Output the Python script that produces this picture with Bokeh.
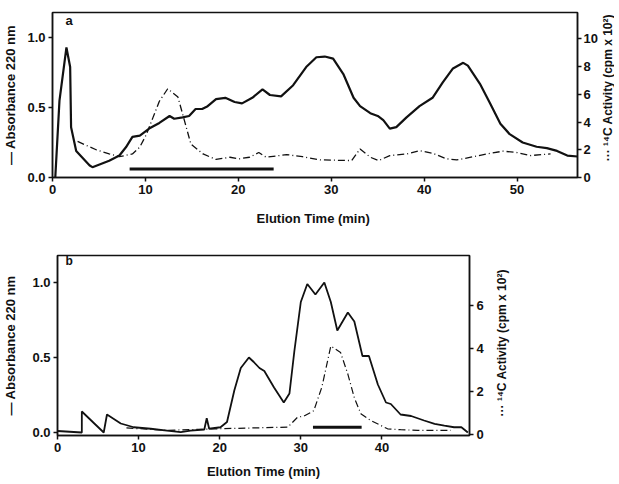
import math
from bokeh.plotting import figure
from bokeh.layouts import column, row
from bokeh.models import Range1d, LinearAxis, FixedTicker, Label, CustomJSTickFormatter
from bokeh.core.properties import value
from bokeh.embed import file_html
from bokeh.resources import INLINE

# ---------------- Panel a data ----------------
a_abs_t = [0.3, 0.75, 1.5, 1.9, 2.0, 2.55, 4.0, 4.3, 6.1, 7.2, 7.9, 8.6, 9.4, 10.4, 11.5, 12.6, 13.1,
           14.0, 14.7, 15.4, 16.1, 16.7, 17.6, 18.6, 19.6, 20.4, 21.5, 22.6, 23.4, 24.6, 25.9, 27.3,
           28.4, 29.3, 30.2, 31.3, 32.4, 33.1, 34.2, 35.0, 35.6, 36.3, 37.0, 38.1, 39.5, 40.9, 42.0,
           43.1, 44.2, 44.7, 46.0, 47.1, 48.2, 49.2, 50.6, 52.1, 53.2, 54.3, 55.4, 56.5]
a_abs = [0.0, 0.55, 0.93, 0.79, 0.36, 0.19, 0.086, 0.074, 0.12, 0.157, 0.216, 0.29, 0.30, 0.35, 0.39,
         0.44, 0.42, 0.43, 0.44, 0.49, 0.49, 0.51, 0.56, 0.57, 0.54, 0.53, 0.57, 0.63, 0.59, 0.58, 0.66,
         0.79, 0.86, 0.865, 0.85, 0.74, 0.57, 0.51, 0.46, 0.44, 0.41, 0.35, 0.36, 0.43, 0.51, 0.57, 0.68,
         0.78, 0.82, 0.80, 0.67, 0.53, 0.385, 0.31, 0.25, 0.22, 0.21, 0.19, 0.157, 0.15]

a_c14_t = [2.7, 4.7, 6.1, 7.2, 8.6, 9.4, 10.1, 10.8, 11.5, 12.4, 13.5, 14.2, 14.9, 16.2, 17.6, 19.1,
           20.1, 21.2, 22.2, 23.0, 25.2, 26.9, 28.8, 32.2, 33.1, 34.2, 35.1, 36.3, 38.1, 39.5, 40.9,
           42.4, 43.5, 45.3, 46.7, 48.5, 50.0, 51.4, 53.6]
a_c14 = [2.6, 2.0, 1.7, 1.5, 1.7, 2.2, 3.1, 4.3, 5.5, 6.4, 5.8, 4.1, 2.4, 1.7, 1.3, 1.46, 1.35, 1.46,
         1.8, 1.46, 1.65, 1.5, 1.27, 1.22, 2.06, 1.46, 1.22, 1.58, 1.7, 1.94, 1.75, 1.35, 1.27, 1.5,
         1.7, 1.9, 1.8, 1.58, 1.7]

a_bar_t = [8.3, 23.8]
a_bar_y = [0.06, 0.06]

# ---------------- Panel b data ----------------
b_abs_t = [0.0, 3.0, 3.0, 5.7, 6.1, 7.8, 9.4, 11.5, 13.5, 15.2, 16.4, 18.1, 18.4, 18.7, 20.1, 20.9,
           21.8, 22.6, 23.6, 24.2, 24.9, 25.5, 26.7, 27.9, 28.6, 29.2, 30.0, 30.8, 31.8, 32.9, 33.7,
           34.5, 35.8, 36.6, 37.6, 38.4, 39.5, 40.5, 41.1, 42.3, 43.6, 45.2, 46.5, 47.7, 48.9, 49.8, 50.6]
b_abs = [0.01, 0.0, 0.14, 0.0, 0.12, 0.06, 0.035, 0.025, 0.013, 0.002, 0.013, 0.02, 0.095, 0.025,
         0.035, 0.07, 0.28, 0.43, 0.50, 0.47, 0.43, 0.41, 0.30, 0.20, 0.26, 0.54, 0.87, 0.99, 0.92,
         1.0, 0.87, 0.68, 0.80, 0.74, 0.51, 0.51, 0.32, 0.20, 0.19, 0.12, 0.11, 0.08, 0.058, 0.046,
         0.035, 0.035, 0.0]

b_c14_t = [8.5, 13.5, 19.7, 28.4, 29.6, 30.4, 31.6, 32.6, 33.7, 34.9, 35.8, 36.6, 37.4, 38.6, 40.7,
           42.3, 44.4, 46.5, 48.5]
b_c14 = [0.3, 0.19, 0.26, 0.34, 0.8, 0.85, 1.1, 2.2, 4.1, 3.8, 2.8, 1.7, 0.96, 0.65, 0.26, 0.22,
         0.19, 0.19, 0.19]

b_bar_t = [31.5, 37.5]
b_bar_y = [0.035, 0.035]

left_label = "— Absorbance 220 nm"
right_label_a = "··· ¹⁴C Activity (cpm x 10²)"
right_label_b = "··· ¹⁴C Activity  (cpm x 10²)"
x_label_a = "Elution Time  (min)"
x_label_b = "Elution Time (min)"

FONT = "Liberation Sans"
INK = "#111111"


def style(p, xticks, lticks):
    p.outline_line_color = INK
    p.outline_line_width = 1.5
    p.xgrid.visible = False
    p.ygrid.visible = False
    for ax in p.axis:
        ax.axis_line_color = INK
        ax.axis_line_width = 1.5
        ax.major_tick_line_color = INK
        ax.major_tick_line_width = 1.5
        ax.major_tick_out = 4
        ax.major_tick_in = 0
        ax.minor_tick_line_color = None
        ax.major_label_text_font = FONT
        ax.major_label_text_font_size = "13px"
        ax.major_label_text_font_style = "bold"
        ax.major_label_text_color = INK
        ax.axis_label_text_font = FONT
        ax.axis_label_text_font_size = "13px"
        ax.axis_label_text_font_style = "bold"
        ax.axis_label_text_color = INK
        ax.major_label_standoff = 3
    p.xaxis.ticker = FixedTicker(ticks=xticks)
    p.yaxis[0].ticker = FixedTicker(ticks=lticks)
    p.yaxis[0].formatter = CustomJSTickFormatter(code="return tick.toFixed(1);")


def side_label(width, height, center_from_top, text):
    f = figure(width=width, height=height, x_range=Range1d(0, width), y_range=Range1d(0, height),
               x_axis_type=None, y_axis_type=None, toolbar_location=None, output_backend="svg",
               min_border=0)
    f.outline_line_color = None
    f.text(x=[width / 2], y=[height - center_from_top], text=[text], angle=math.pi / 2,
           text_align="center", text_baseline="middle", text_font=value(FONT),
           text_font_size="12px", text_font_style="bold", text_color=INK)
    return f


# ---------------- Panel a ----------------
pa = figure(frame_width=525, frame_height=165, output_backend="svg", toolbar_location=None,
            x_range=Range1d(0, 56.5), y_range=Range1d(0, 1.18),
            min_border_left=45, min_border_right=21, min_border_top=12, min_border_bottom=60)
pa.extra_y_ranges = {"c14": Range1d(0, 11.9)}
ra = LinearAxis(y_range_name="c14")
pa.add_layout(ra, "right")
pa.xaxis.axis_label = x_label_a
pa.yaxis[0].axis_label = left_label
style(pa, [0, 10, 20, 30, 40, 50], [0, 0.5, 1.0])
ra.ticker = FixedTicker(ticks=[0, 2, 4, 6, 8, 10])
ra.major_label_standoff = 2
pa.xaxis.axis_label_standoff = 14
pa.yaxis[0].axis_label_standoff = 6

pa.line(a_abs_t, a_abs, line_color=INK, line_width=2.2)
pa.line(a_c14_t, a_c14, line_color=INK, line_width=1.3, line_dash="7 3 1 3", y_range_name="c14")
pa.line(a_bar_t, a_bar_y, line_color=INK, line_width=3)
pa.add_layout(Label(x=1.4, y=1.07, text="a", text_font=FONT, text_font_size="13px",
                    text_font_style="bold", text_color=INK))
la = side_label(14, 237, 108, right_label_a)

# ---------------- Panel b ----------------
pb = figure(frame_width=412, frame_height=180, output_backend="svg", toolbar_location=None,
            x_range=Range1d(0, 50.8), y_range=Range1d(-0.02, 1.18),
            min_border_left=50, min_border_right=16, min_border_top=18, min_border_bottom=46)
pb.extra_y_ranges = {"c14": Range1d(-0.05, 8.3)}
rb = LinearAxis(y_range_name="c14")
pb.add_layout(rb, "right")
pb.xaxis.axis_label = x_label_b
pb.yaxis[0].axis_label = left_label
style(pb, [0, 10, 20, 30, 40], [0, 0.5, 1.0])
rb.ticker = FixedTicker(ticks=[0, 2, 4, 6])
pb.xaxis.axis_label_standoff = 9
pb.yaxis[0].axis_label_standoff = 11

pb.line(b_abs_t, b_abs, line_color=INK, line_width=1.8)
pb.line(b_c14_t, b_c14, line_color=INK, line_width=1.2, line_dash="7 3 1 3", y_range_name="c14")
pb.line(b_bar_t, b_bar_y, line_color=INK, line_width=3)
pb.add_layout(Label(x=1.0, y=1.1, text="b", text_font=FONT, text_font_size="12px",
                    text_font_style="bold", text_color=INK))
lb = side_label(30, 244, 116, right_label_b)

layout = column(row(pa, la, spacing=0), row(pb, lb, spacing=0), spacing=0)
open("out.html", "w").write(file_html(layout, INLINE))
